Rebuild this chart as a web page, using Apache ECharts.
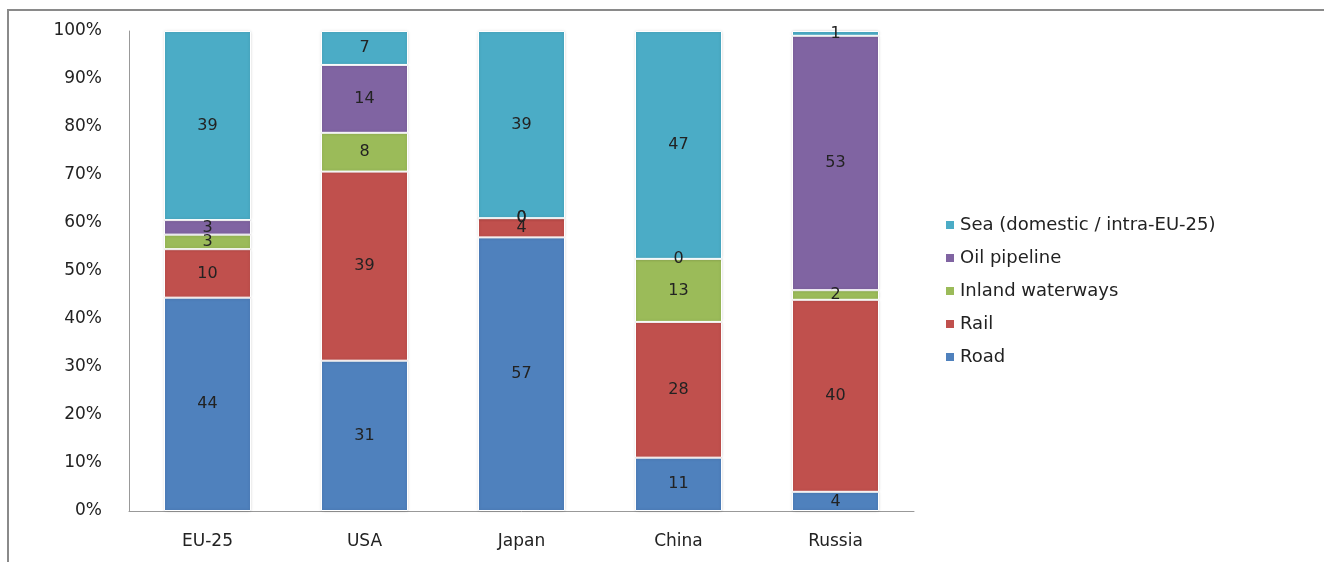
<!DOCTYPE html>
<html><head><meta charset="utf-8">
<script src="https://cdn.jsdelivr.net/npm/echarts@6/dist/echarts.min.js"></script>
<style>html,body{margin:0;padding:0;background:#fff}#c{width:1324px;height:562px}</style>
</head><body><div id="c"></div>
<script>
var categories = ['EU-25', 'USA', 'Japan', 'China', 'Russia'];
var road = [44, 31, 57, 11, 4];
var rail = [10, 39, 4, 28, 40];
var inland = [3, 8, 0, 13, 2];
var oil = [3, 14, 0, 0, 53];
var sea = [39, 7, 39, 47, 1];
var seriesNames = ['Road', 'Rail', 'Inland waterways', 'Oil pipeline', 'Sea (domestic / intra-EU-25)'];
var colors = ['#4F81BD', '#C0504D', '#9BBB59', '#8064A2', '#4BACC6'];
var yTicks = ['0%','10%','20%','30%','40%','50%','60%','70%','80%','90%','100%'];

var raw = [road, rail, inland, oil, sea];
var totals = categories.map(function(_, i){ return raw.reduce(function(s, a){ return s + a[i]; }, 0); });
var font = '"DejaVu Sans", Verdana, sans-serif';

var series = raw.map(function(arr, k){
  return {
    name: seriesNames[k], type: 'bar', stack: 'all', barWidth: 87,
    data: arr.map(function(v, i){ return {value: v / totals[i] * 100, raw: v}; }),
    itemStyle: {color: colors[k], borderColor: '#fff', borderWidth: 1, shadowColor: 'rgba(0,0,0,0.15)', shadowBlur: 3},
    label: {show: true, position: 'inside', color: '#222', fontFamily: font, fontSize: 16,
      formatter: function(p){ return String(p.data.raw); }}
  };
});

var chart = echarts.init(document.getElementById('c'));
chart.setOption({
  animation: false,
  color: colors,
  grid: {left: 129, right: 1324 - 914, top: 31, bottom: 562 - 511},
  legend: {
    orient: 'vertical', left: 939, top: 211, itemGap: 15, itemWidth: 10, itemHeight: 10,
    icon: 'rect', textStyle: {fontFamily: font, fontSize: 18, color: '#222'},
    data: seriesNames.slice().reverse()
  },
  xAxis: {type: 'category', data: categories,
    axisLine: {lineStyle: {color: '#999'}}, axisTick: {show: false},
    axisLabel: {fontFamily: font, fontSize: 17, color: '#222', margin: 22}},
  yAxis: {type: 'value', min: 0, max: 100, interval: 10,
    axisLine: {show: true, lineStyle: {color: '#999'}}, axisTick: {show: false}, splitLine: {show: false},
    axisLabel: {fontFamily: font, fontSize: 17, color: '#222', margin: 27,
      formatter: function(v){ return yTicks[Math.round(v / 10)]; }}},
  graphic: [{type: 'rect', shape: {x: 8, y: 10, width: 1330, height: 570},
    style: {fill: 'none', stroke: '#8a8a8a', lineWidth: 2}, silent: true}],
  series: series
});
</script></body></html>
